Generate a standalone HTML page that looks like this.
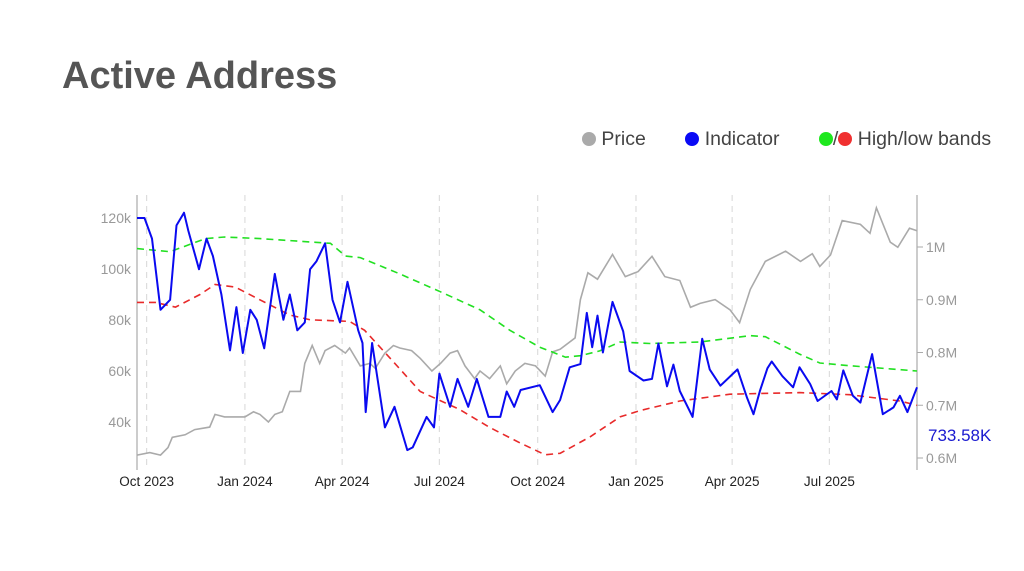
<!DOCTYPE html>
<html><head><meta charset="utf-8"><style>
body{margin:0;background:#fff;font-family:"Liberation Sans",sans-serif;}
#wrap{position:relative;width:1024px;height:571px;overflow:hidden;}
.t{position:absolute;}
</style></head><body>
<div id="wrap">
<div class="t" style="left:62px;top:55px;font-size:38px;font-weight:bold;color:#555;">Active Address</div>
<div class="t" style="left:582px;top:128px;font-size:19.5px;color:#444;white-space:nowrap;">
<span><span style="display:inline-block;width:14px;height:14px;border-radius:50%;background:#aaa;vertical-align:-1px;"></span> Price</span>
<span style="margin-left:34px;"><span style="display:inline-block;width:14px;height:14px;border-radius:50%;background:#0a0af5;vertical-align:-1px;"></span> Indicator</span>
<span style="margin-left:34px;"><span style="display:inline-block;width:14px;height:14px;border-radius:50%;background:#1ee81e;vertical-align:-1px;"></span>/<span style="display:inline-block;width:14px;height:14px;border-radius:50%;background:#f03030;vertical-align:-1px;"></span> High/low bands</span>
</div>
<svg id="chart" width="1024" height="571" style="position:absolute;left:0;top:0;" font-family="Liberation Sans, sans-serif"></svg>
</div>
<script>
const tickDays=[9,101,192,283,375,467,557,648];
const tickLabels=["Oct 2023","Jan 2024","Apr 2024","Jul 2024","Oct 2024","Jan 2025","Apr 2025","Jul 2025"];
const leftTicks=[40,60,80,100,120];
const rightTicks=[0.6,0.7,0.8,0.9,1.0];
const rightTickLabels=["0.6M","0.7M","0.8M","0.9M","1M"];
const priceDays=[0,12,22,29,33,45,54,68,73,82,101,109,115,123,129,136,143,153,157,164,171,176,185,195,199,209,218,223,232,240,246,257,265,276,284,293,300,307,316,321,330,340,346,354,363,373,382,389,396,410,415,422,431,445,457,469,482,494,508,518,527,541,555,564,574,588,607,621,632,639,649,660,677,686,692,705,712,723,730];
const priceVals=[27,28,27,30,34,35,37,38,43,42,42,44,43,40,43,44,52,52,63,70,63,68,70,67,69,62,63,61,67,70,69,68,65,60,63,67,68,62,57,60,57,62,55,60,63,62,58,67.5,68.5,73,88,98.5,96,105.7,97,99,105,97,95.5,85,86.5,88,84,79,92,103,107,103,106,101,105.5,119,117.5,114,124,110.5,108.5,116,115];
const indDays=[0,7,14,22,31,37,44,48,58,65,71,79,87,93,99,106,112,119,129,137,143,150,157,162,168,176,183,190,197,207,211,214,220,232,241,253,258,271,278,283,293,300,310,318,329,340,346,353,359,377,389,396,405,415,421,426,431,436,445,455,461,474,482,488,496,502,508,520,529,536,546,562,571,577,583,590,594,604,614,620,630,637,650,655,661,670,677,688,698,708,714,721,730];
const indVals=[1.055,1.055,1.016,0.881,0.90,1.041,1.065,1.031,0.958,1.016,0.983,0.910,0.804,0.886,0.799,0.881,0.862,0.808,0.949,0.862,0.910,0.842,0.857,0.958,0.973,1.007,0.900,0.857,0.934,0.842,0.818,0.687,0.818,0.658,0.697,0.615,0.620,0.678,0.658,0.760,0.697,0.750,0.697,0.750,0.678,0.678,0.726,0.697,0.729,0.738,0.687,0.71,0.772,0.778,0.875,0.81,0.87,0.80,0.896,0.84,0.765,0.747,0.75,0.817,0.736,0.777,0.727,0.678,0.826,0.768,0.737,0.768,0.714,0.683,0.727,0.77,0.783,0.755,0.734,0.772,0.74,0.708,0.727,0.711,0.766,0.718,0.705,0.797,0.683,0.696,0.718,0.687,0.734];
const highDays=[0,31,64,82,115,167,181,195,209,246,284,321,349,377,401,415,433,452,480,527,574,588,620,639,667,730];
const highVals=[0.997,0.991,1.016,1.019,1.016,1.009,1.007,0.983,0.980,0.949,0.915,0.881,0.842,0.81,0.791,0.794,0.803,0.82,0.817,0.82,0.832,0.83,0.797,0.78,0.775,0.765];
const lowDays=[0,17,36,59,73,92,115,143,162,199,213,237,265,302,330,359,382,396,424,452,471,508,555,620,667,714,730];
const lowVals=[0.895,0.895,0.886,0.910,0.929,0.924,0.900,0.871,0.862,0.859,0.842,0.789,0.726,0.692,0.658,0.628,0.606,0.609,0.640,0.678,0.69,0.708,0.721,0.724,0.72,0.708,0.70];
const lastLabel="733.58K";

const NS="http://www.w3.org/2000/svg";
const svg=document.getElementById('chart');
const X0=137,X1=917,Y0=195,Y1=470,D1=730;
const xs=d=>X0+d*(X1-X0)/D1;
const yl=v=>218+(120-v)*2.55;
const yr=v=>247+(1-v)*527.5;
function mk(tag,attrs){const e=document.createElementNS(NS,tag);for(const k in attrs)e.setAttribute(k,attrs[k]);svg.appendChild(e);return e;}
tickDays.forEach((d,i)=>{
 const g=mk('line',{x1:xs(d),x2:xs(d),y1:Y0,y2:Y1,stroke:'#ddd','stroke-width':1.2,'stroke-dasharray':'6,5'});
 
 
 const t=mk('text',{x:xs(d),y:486,'text-anchor':'middle','font-size':13.5,fill:'#222'});
 t.textContent=tickLabels[i];
 
 
});
const la=mk('line',{x1:X0,x2:X0,y1:Y0,y2:Y1,stroke:'#aaa','stroke-width':1.2});


const ra=mk('line',{x1:X1,x2:X1,y1:Y0,y2:Y1,stroke:'#aaa','stroke-width':1.2});


leftTicks.forEach(v=>{
 const t=mk('text',{x:X0-6,y:yl(v)+5,'text-anchor':'end','font-size':14,fill:'#999'});
 t.textContent=v+'k';
 
 
});
rightTicks.forEach((v,i)=>{
 const l=mk('line',{x1:X1,x2:X1+6,y1:yr(v),y2:yr(v),stroke:'#aaa'});
 
 
 const t=mk('text',{x:X1+9,y:yr(v)+5,'font-size':14,fill:'#999'});
 t.textContent=rightTickLabels[i];
 
 
});
function path(days,vals,yf){return days.map((d,i)=>(i?'L':'M')+xs(d).toFixed(1)+','+yf(vals[i]).toFixed(1)).join(' ');}
const pp=mk('path',{d:path(priceDays,priceVals,yl),fill:'none',stroke:'#aaa','stroke-width':1.6});


const hp=mk('path',{d:path(highDays,highVals,yr),fill:'none',stroke:'#22e022','stroke-width':1.6,'stroke-dasharray':'7,5'});


const lp=mk('path',{d:path(lowDays,lowVals,yr),fill:'none',stroke:'#e82a2a','stroke-width':1.6,'stroke-dasharray':'7,5'});


const ip=mk('path',{d:path(indDays,indVals,yr),fill:'none',stroke:'#0a0af0','stroke-width':2,'stroke-linejoin':'round'});


const lt=mk('text',{x:928,y:441,'font-size':17,fill:'#1a1ad0'});
lt.textContent=lastLabel;


</script>
</body></html>
